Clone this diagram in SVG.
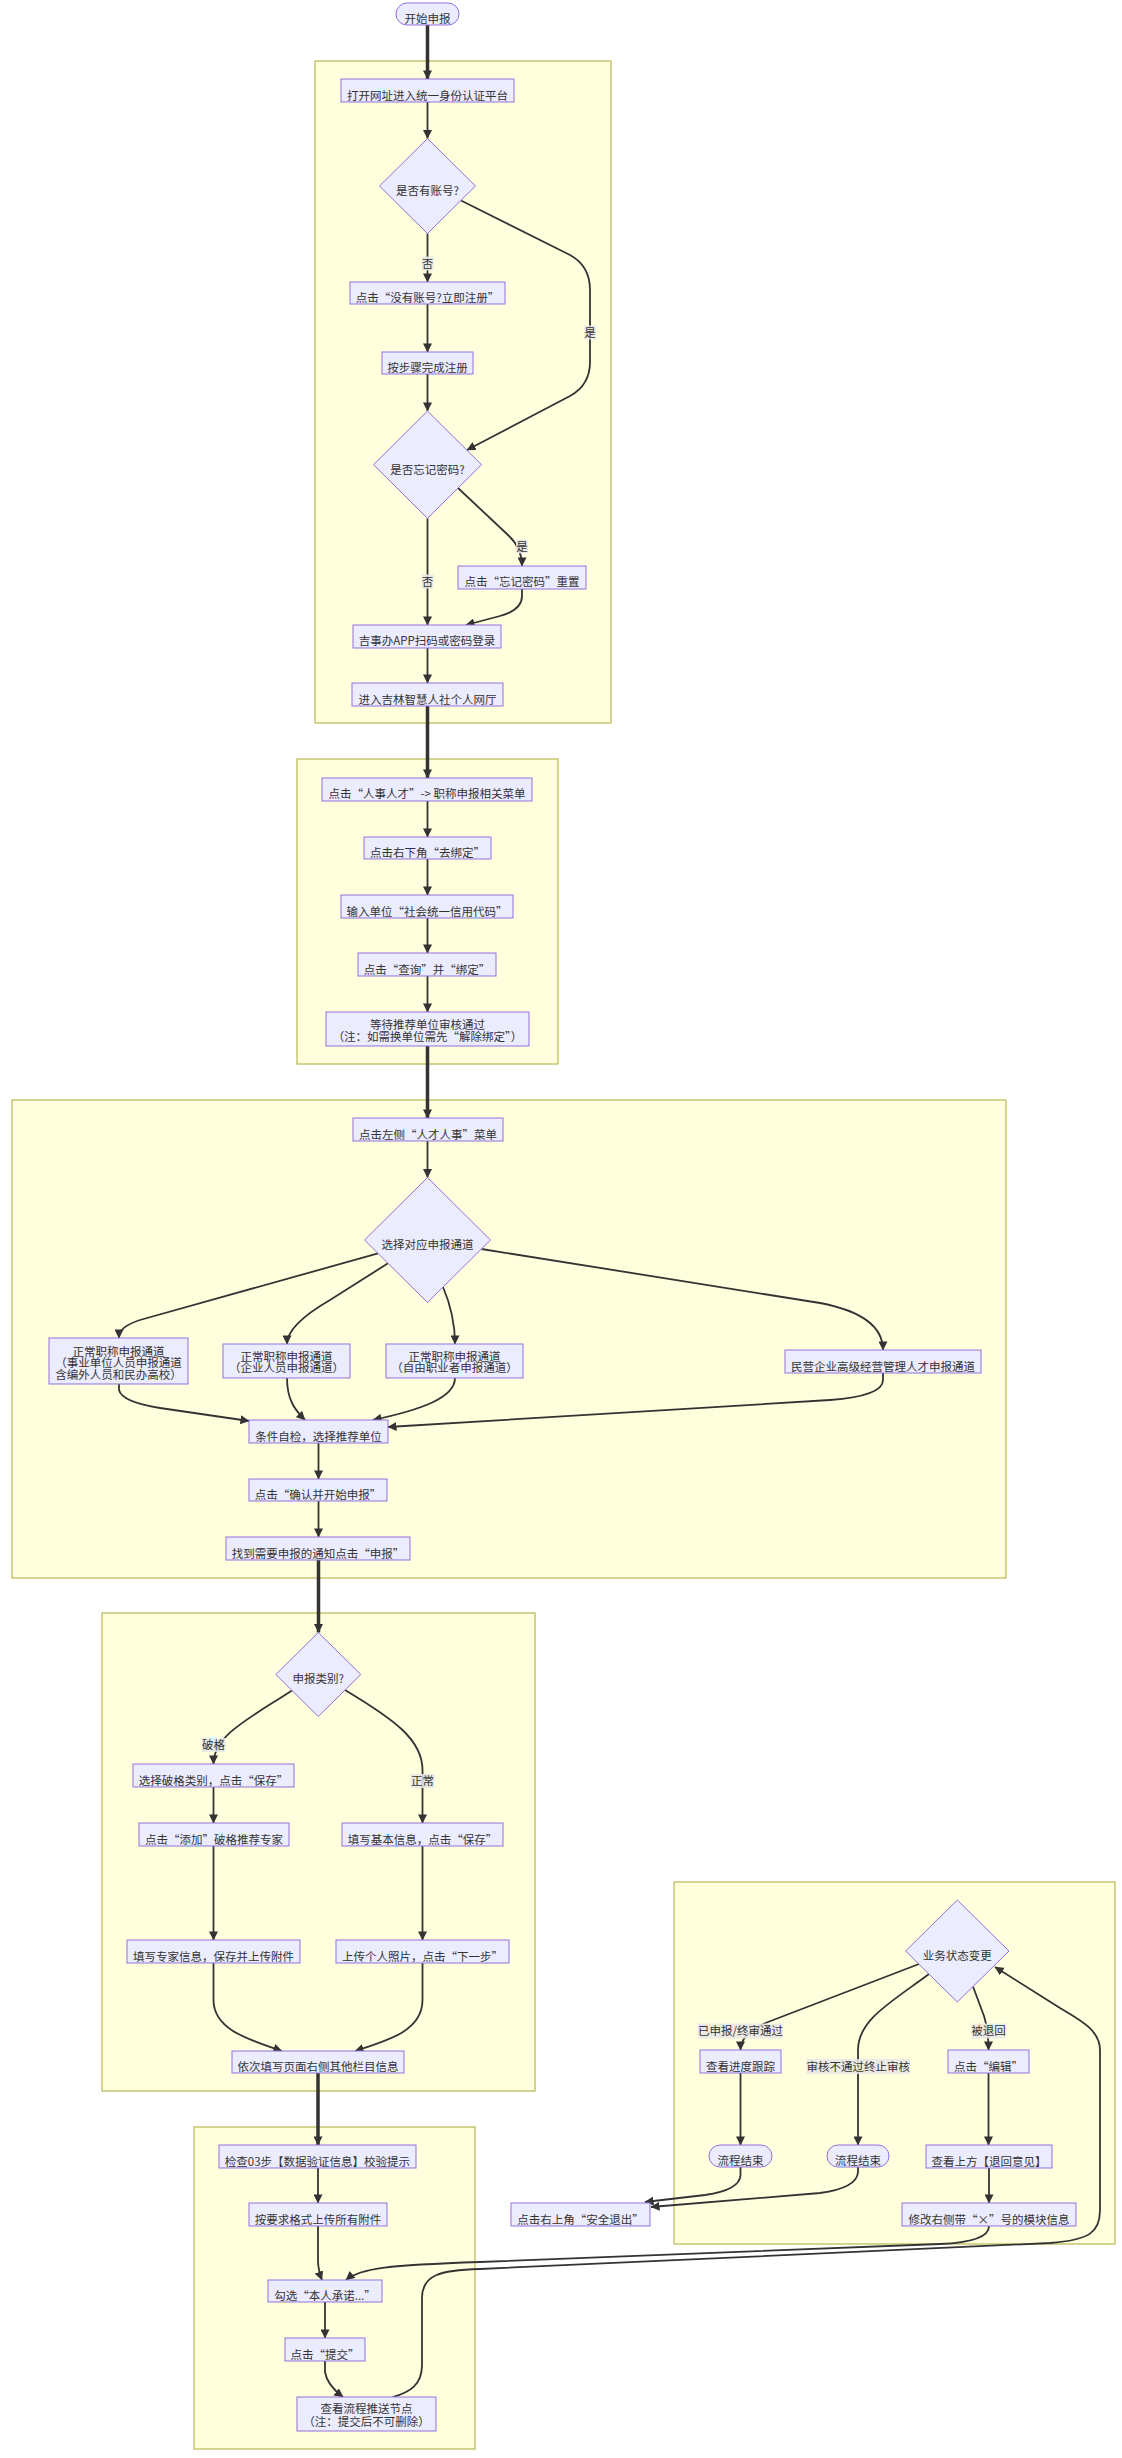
<svg xmlns="http://www.w3.org/2000/svg" width="1122" height="2458" viewBox="0 0 1122 2458">
<defs>
<marker id="ah" viewBox="0 0 10 10" refX="9.5" refY="5" markerWidth="9" markerHeight="9" markerUnits="userSpaceOnUse" orient="auto"><path d="M0,0 L10,5 L0,10 z" fill="#333"/></marker>
<style>
.cl{fill:#ffffde;stroke:#aaaa33;stroke-width:1}
.nd{fill:#ececff;stroke:#9370db;stroke-width:1}
.t{font-family:"Noto Sans CJK SC","Noto Sans",sans-serif;font-size:11.5px;fill:#333;text-anchor:middle}
.e{fill:none;stroke:#333;stroke-width:1.8;marker-end:url(#ah)}
.et{fill:none;stroke:#333;stroke-width:3.5;marker-end:url(#ah)}
.lb{fill:#e8e8e8;opacity:0.85}
</style>
</defs>
<rect width="1122" height="2458" fill="#ffffff"/>
<g id="clusters">
<rect class="cl" x="315" y="61" width="296" height="662"/>
<rect class="cl" x="297" y="759" width="261" height="305"/>
<rect class="cl" x="12" y="1100" width="994" height="478"/>
<rect class="cl" x="102" y="1613" width="433" height="478"/>
<rect class="cl" x="194" y="2127" width="281" height="322"/>
<rect class="cl" x="674" y="1882" width="441" height="362"/>
</g>
<g id="connectors">
<path class="et" d="M427.5,25 L427.5,79"/>
<path class="e" d="M427.5,102 L427.5,138.5"/>
<path class="e" d="M427.5,233.5 L427.5,282"/>
<path class="e" d="M461,200.5 L570,255 Q590,266 590,290 L590,362 Q590,385 570,396 L467,450"/>
<path class="e" d="M427.5,304 L427.5,352"/>
<path class="e" d="M427.5,374 L427.5,411"/>
<path class="e" d="M458,488 L508,535 Q522,548 522,566"/>
<path class="e" d="M427.5,518.4 L427.5,625"/>
<path class="e" d="M522,589 L522,596 Q522,610 500,616 L466,625"/>
<path class="e" d="M427.5,648 L427.5,683"/>
<path class="et" d="M427.5,706 L427.5,778"/>
<path class="e" d="M427.5,801 L427.5,837"/>
<path class="e" d="M427.5,859 L427.5,895"/>
<path class="e" d="M427.5,918 L427.5,953"/>
<path class="e" d="M427.5,976 L427.5,1012"/>
<path class="et" d="M427.5,1046 L427.5,1118"/>
<path class="e" d="M427.5,1141 L427.5,1177.5"/>
<path class="e" d="M378,1253.4 L140,1320 C125,1325 119,1330 119,1338"/>
<path class="e" d="M388,1263.3 L330,1300 Q287,1325 287,1344"/>
<path class="e" d="M443,1287 Q455,1315 455,1344"/>
<path class="e" d="M481.5,1249 L820,1303 Q883,1315 883,1350"/>
<path class="e" d="M119,1384 L119,1390 Q122,1402 160,1408 L249,1421"/>
<path class="e" d="M287,1378 C287,1400 295,1410 305,1420"/>
<path class="e" d="M455,1378 C455,1398 420,1410 373,1420"/>
<path class="e" d="M883,1373 L883,1380 Q883,1396 830,1400 L388,1427"/>
<path class="e" d="M318.5,1443 L318.5,1479"/>
<path class="e" d="M318.5,1501 L318.5,1537"/>
<path class="et" d="M318.5,1560 L318.5,1632.5"/>
<path class="e" d="M292,1690.5 C250,1718 213.5,1735 213.5,1764"/>
<path class="e" d="M345,1690 C395,1720 422.5,1740 422.5,1770 L422.5,1823"/>
<path class="e" d="M213.5,1787 L213.5,1823"/>
<path class="e" d="M213.5,1846 L213.5,1940"/>
<path class="e" d="M422.5,1846 L422.5,1940"/>
<path class="e" d="M213.5,1963 L213.5,2000 C213.5,2030 250,2040 282,2051"/>
<path class="e" d="M422.5,1963 L422.5,2000 C422.5,2030 390,2040 355,2051"/>
<path class="et" d="M318,2073 L318,2145"/>
<path class="e" d="M318,2168 L318,2203"/>
<path class="e" d="M318,2226 L318,2260 Q318,2270 322,2280"/>
<path class="e" d="M325,2302 L325,2338"/>
<path class="e" d="M325,2361 L325,2372 Q327,2385 343,2397"/>
<path class="e" d="M989,2226 Q989,2242 940,2244 L480,2262 C390,2265 360,2268 346,2280"/>
<path class="e" d="M393,2397 C410,2392 422,2385 422,2365 L422,2298 C422,2275 440,2270 480,2269 L1050,2243 C1090,2240 1100,2232 1100,2210 L1100,2050 C1100,2030 1080,2020 1060,2008 L995,1967"/>
<path class="e" d="M919,1964 L768,2022 Q740.5,2033 740.5,2050"/>
<path class="e" d="M929,1974 C890,2003 858,2020 858,2050 L858,2145"/>
<path class="e" d="M973,1986.5 L984,2016 Q988.5,2030 988.5,2050"/>
<path class="e" d="M740.5,2073 L740.5,2145"/>
<path class="e" d="M988.5,2073 L988.5,2145"/>
<path class="e" d="M989,2168 L989,2203"/>
<path class="e" d="M740.5,2167 L740.5,2175 Q740,2190 705,2195 L645,2202"/>
<path class="e" d="M858,2167 L858,2172 Q857,2188 820,2193 L651,2207"/>
</g>
<g id="edge-labels">
<rect class="lb" x="421.5" y="256.5" width="12" height="14"/><text class="t" x="427.5" y="267.5">否</text>
<rect class="lb" x="584" y="325.5" width="12" height="14"/><text class="t" x="590" y="336.5">是</text>
<rect class="lb" x="516" y="539.5" width="12" height="14"/><text class="t" x="522" y="550.5">是</text>
<rect class="lb" x="421.5" y="574.5" width="12" height="14"/><text class="t" x="427.5" y="585.5">否</text>
<rect class="lb" x="201.5" y="1738" width="24" height="14"/><text class="t" x="213.5" y="1749">破格</text>
<rect class="lb" x="410.5" y="1774" width="24" height="14"/><text class="t" x="422.5" y="1785">正常</text>
<rect class="lb" x="698" y="2023.5" width="85" height="15"/><text class="t" x="740.5" y="2035">已申报/终审通过</text>
<rect class="lb" x="806.5" y="2059" width="103.5" height="15"/><text class="t" x="858.3" y="2070.5">审核不通过终止审核</text>
<rect class="lb" x="971.5" y="2023.5" width="34" height="15"/><text class="t" x="988.5" y="2035">被退回</text>
</g>
<g id="n-start"><rect class="nd" x="396" y="3" width="63" height="22" rx="11"/><text class="t" x="427.5" y="22.5">开始申报</text></g>
<g id="n1"><rect class="nd" x="341" y="79" width="173" height="23"/><text class="t" x="427.5" y="99.5">打开网址进入统一身份认证平台</text></g>
<g id="d1"><polygon class="nd" points="427.5,138.5 475.5,186 427.5,233.5 379.5,186"/><text class="t" x="427.5" y="195">是否有账号?</text></g>
<g id="n2"><rect class="nd" x="350" y="282" width="155" height="22"/><text class="t" x="427.5" y="302">点击“没有账号?立即注册”</text></g>
<g id="n3"><rect class="nd" x="382" y="352" width="91" height="22"/><text class="t" x="427.5" y="372">按步骤完成注册</text></g>
<g id="d2"><polygon class="nd" points="427.5,411 481.5,464.7 427.5,518.4 373.5,464.7"/><text class="t" x="427.5" y="473.7">是否忘记密码?</text></g>
<g id="n4"><rect class="nd" x="458" y="566" width="128" height="23"/><text class="t" x="522" y="586">点击“忘记密码”重置</text></g>
<g id="n5"><rect class="nd" x="353" y="625" width="148" height="23"/><text class="t" x="427" y="645">吉事办APP扫码或密码登录</text></g>
<g id="n6"><rect class="nd" x="352" y="683" width="151" height="23"/><text class="t" x="427.5" y="703.5">进入吉林智慧人社个人网厅</text></g>
<g id="n7"><rect class="nd" x="322" y="778" width="210" height="23"/><text class="t" x="427" y="798">点击“人事人才”-&gt; 职称申报相关菜单</text></g>
<g id="n8"><rect class="nd" x="364" y="837" width="127" height="22"/><text class="t" x="427.5" y="857">点击右下角“去绑定”</text></g>
<g id="n9"><rect class="nd" x="341" y="895" width="172" height="23"/><text class="t" x="427" y="915.5">输入单位“社会统一信用代码”</text></g>
<g id="n10"><rect class="nd" x="358" y="953" width="138" height="23"/><text class="t" x="427" y="974">点击“查询”并“绑定”</text></g>
<g id="n11"><rect class="nd" x="326" y="1012" width="203" height="34"/><text class="t" x="427.5" y="1028.5">等待推荐单位审核通过</text><text class="t" x="427.5" y="1040.5">（注：如需换单位需先“解除绑定”）</text></g>
<g id="n12"><rect class="nd" x="353" y="1118" width="150" height="23"/><text class="t" x="428" y="1138.5">点击左侧“人才人事”菜单</text></g>
<g id="d3"><polygon class="nd" points="427.5,1177.5 490.5,1240 427.5,1302.5 364.5,1240"/><text class="t" x="427.5" y="1249">选择对应申报通道</text></g>
<g id="n13"><rect class="nd" x="49" y="1338" width="139" height="46"/><text class="t" x="118.5" y="1355.5">正常职称申报通道</text><text class="t" x="118.5" y="1367">（事业单位人员申报通道</text><text class="t" x="118.5" y="1378.5">含编外人员和民办高校）</text></g>
<g id="n14"><rect class="nd" x="223" y="1344" width="127" height="34"/><text class="t" x="286.5" y="1360.5">正常职称申报通道</text><text class="t" x="286.5" y="1372">（企业人员申报通道）</text></g>
<g id="n15"><rect class="nd" x="386" y="1344" width="137" height="34"/><text class="t" x="454.5" y="1360.5">正常职称申报通道</text><text class="t" x="454.5" y="1372">（自由职业者申报通道）</text></g>
<g id="n16"><rect class="nd" x="785" y="1350" width="196" height="23"/><text class="t" x="883" y="1370.5">民营企业高级经营管理人才申报通道</text></g>
<g id="n17"><rect class="nd" x="249" y="1420" width="139" height="23"/><text class="t" x="318.5" y="1440.5">条件自检，选择推荐单位</text></g>
<g id="n18"><rect class="nd" x="249" y="1479" width="138" height="22"/><text class="t" x="318" y="1498.5">点击“确认并开始申报”</text></g>
<g id="n19"><rect class="nd" x="226" y="1537" width="184" height="23"/><text class="t" x="318" y="1557.5">找到需要申报的通知点击“申报”</text></g>
<g id="d4"><polygon class="nd" points="318.3,1632.5 360.8,1674.5 318.3,1716.5 275.8,1674.5"/><text class="t" x="318.3" y="1683.3">申报类别?</text></g>
<g id="n20"><rect class="nd" x="133" y="1764" width="161" height="23"/><text class="t" x="213.5" y="1784.5">选择破格类别，点击“保存”</text></g>
<g id="n21"><rect class="nd" x="139" y="1823" width="150" height="23"/><text class="t" x="214" y="1843.5">点击“添加”破格推荐专家</text></g>
<g id="n22"><rect class="nd" x="127" y="1940" width="173" height="23"/><text class="t" x="213.5" y="1960.5">填写专家信息，保存并上传附件</text></g>
<g id="n23"><rect class="nd" x="342" y="1823" width="161" height="23"/><text class="t" x="422.5" y="1843.5">填写基本信息，点击“保存”</text></g>
<g id="n24"><rect class="nd" x="336" y="1940" width="173" height="23"/><text class="t" x="422.5" y="1960.5">上传个人照片，点击“下一步”</text></g>
<g id="n25"><rect class="nd" x="232" y="2051" width="172" height="22"/><text class="t" x="318" y="2070.5">依次填写页面右侧其他栏目信息</text></g>
<g id="n26"><rect class="nd" x="219" y="2145" width="197" height="23"/><text class="t" x="317.5" y="2165.5">检查03步【数据验证信息】校验提示</text></g>
<g id="n27"><rect class="nd" x="249" y="2203" width="138" height="23"/><text class="t" x="318" y="2223.5">按要求格式上传所有附件</text></g>
<g id="n28"><rect class="nd" x="268" y="2280" width="114" height="22"/><text class="t" x="325" y="2300">勾选“本人承诺...”</text></g>
<g id="n29"><rect class="nd" x="285" y="2338" width="80" height="23"/><text class="t" x="325" y="2358.5">点击“提交”</text></g>
<g id="n30"><rect class="nd" x="297" y="2397" width="139" height="34"/><text class="t" x="366.5" y="2413">查看流程推送节点</text><text class="t" x="366.5" y="2425.5">（注：提交后不可删除）</text></g>
<g id="n31"><rect class="nd" x="511" y="2203" width="139" height="23"/><text class="t" x="580.5" y="2223.5">点击右上角“安全退出”</text></g>
<g id="d5"><polygon class="nd" points="957.3,1900 1009,1951 957.3,2002 905.6,1951"/><text class="t" x="957.3" y="1960">业务状态变更</text></g>
<g id="n32"><rect class="nd" x="700" y="2050" width="81" height="23"/><text class="t" x="740.5" y="2070.5">查看进度跟踪</text></g>
<g id="n33"><rect class="nd" x="948" y="2050" width="81" height="23"/><text class="t" x="988.5" y="2070.5">点击“编辑”</text></g>
<g id="n34"><rect class="nd" x="709" y="2145" width="63" height="22" rx="11"/><text class="t" x="740.5" y="2164.5">流程结束</text></g>
<g id="n35"><rect class="nd" x="827" y="2145" width="62" height="22" rx="11"/><text class="t" x="858" y="2164.5">流程结束</text></g>
<g id="n36"><rect class="nd" x="926" y="2145" width="126" height="23"/><text class="t" x="989" y="2165.5">查看上方【退回意见】</text></g>
<g id="n37"><rect class="nd" x="902" y="2203" width="174" height="23"/><text class="t" x="989" y="2223.5">修改右侧带“×”号的模块信息</text></g>
</svg>
